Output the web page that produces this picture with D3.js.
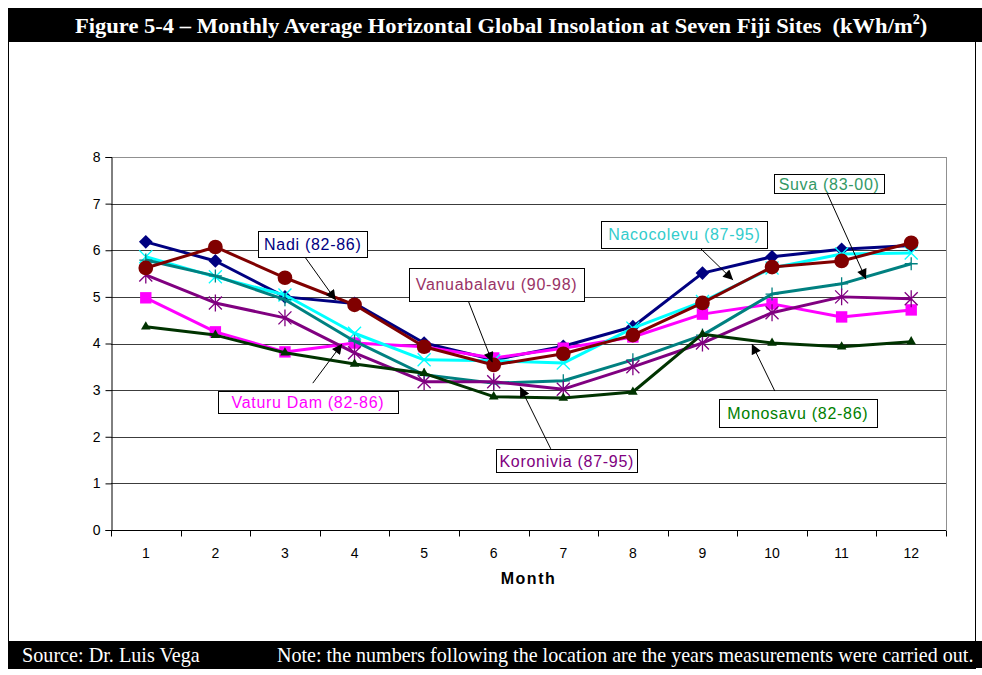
<!DOCTYPE html>
<html>
<head>
<meta charset="utf-8">
<script src="https://cdn.jsdelivr.net/npm/d3@7"></script>
<style>
    body {
        margin: 0;
        background: #fff;
    }
    svg {
        display: block;
    }
</style>
</head>
<body>
<svg id="chart" width="982" height="675"></svg>
<script>
    const months = [1, 2, 3, 4, 5, 6, 7, 8, 9, 10, 11, 12];
    const yTicks = [0, 1, 2, 3, 4, 5, 6, 7, 8];

    // kWh/m2 per month
    const nadi = [6.18, 5.77, 5.0, 4.86, 4.01, 3.65, 3.94, 4.36, 5.51, 5.86, 6.02, 6.1];
    const vaturuDam = [4.98, 4.25, 3.82, 4.01, 3.93, 3.69, 3.9, 4.14, 4.63, 4.85, 4.57, 4.72];
    const nacocolevu = [5.86, 5.43, 5.04, 4.22, 3.65, 3.63, 3.58, 4.33, 4.9, 5.62, 5.92, 5.94];
    const suva = [5.79, 5.45, 4.94, 4.05, 3.33, 3.15, 3.2, 3.65, 4.18, 5.06, 5.28, 5.71];
    const koronivia = [5.47, 4.87, 4.55, 3.8, 3.18, 3.18, 3.02, 3.5, 4.01, 4.66, 5.0, 4.96];
    const monosavu = [4.36, 4.18, 3.8, 3.56, 3.36, 2.86, 2.83, 2.96, 4.2, 4.01, 3.93, 4.04];
    const vanuabalavu = [5.62, 6.07, 5.41, 4.83, 3.93, 3.54, 3.78, 4.18, 4.87, 5.64, 5.77, 6.16];

    const series = [
        {name: "Nadi (82-86)", values: nadi, color: "#000080", text: "#000080", marker: "diamond"},
        {name: "Vaturu Dam (82-86)", values: vaturuDam, color: "#ff00ff", text: "#ff00ff", marker: "square"},
        {name: "Nacocolevu (87-95)", values: nacocolevu, color: "#00ffff", text: "#33cccc", marker: "x"},
        {name: "Suva (83-00)", values: suva, color: "#008080", text: "#339966", marker: "plus"},
        {name: "Koronivia (87-95)", values: koronivia, color: "#800080", text: "#800080", marker: "star"},
        {name: "Monosavu (82-86)", values: monosavu, color: "#003300", text: "#008000", marker: "triangle"},
        {name: "Vanuabalavu (90-98)", values: vanuabalavu, color: "#800000", text: "#993366", marker: "circle"},
    ];

    // callouts: box centre and arrow ends in data units (month, value)
    const callouts = [
        {name: "Nadi (82-86)", box: [3.4, 6.13], w: 109, h: 26, from: [3.28, 5.87], to: [3.73, 4.93]},
        {name: "Vanuabalavu (90-98)", box: [6.04, 5.27], w: 175, h: 33, from: [5.63, 4.93], to: [5.98, 3.6]},
        {name: "Nacocolevu (87-95)", box: [8.74, 6.34], w: 166, h: 27, from: [8.95, 6.07], to: [9.44, 5.36]},
        {name: "Suva (83-00)", box: [10.82, 7.43], w: 110, h: 19, from: [10.79, 7.23], to: [11.35, 5.38]},
        {name: "Vaturu Dam (82-86)", box: [3.33, 2.75], w: 180, h: 22, from: [3.4, 3.15], to: [3.82, 3.99]},
        {name: "Monosavu (82-86)", box: [10.37, 2.51], w: 158, h: 28, from: [10.04, 2.98], to: [9.71, 3.99]},
        {name: "Koronivia (87-95)", box: [7.05, 1.49], w: 141, h: 23, from: [6.82, 1.74], to: [6.38, 3.07]},
    ];

    const svg = d3.select("#chart");
    const W = 982, H = 675;

    const plot = {left: 111, right: 946, top: 157, bottom: 530};

    // squeeze a text element horizontally so it spans [x0, x1]
    const fitText = (sel, x0, x1) => {
        const box = sel.node().getBBox();
        const k = (x1 - x0) / box.width;
        sel.attr("transform", `translate(${x0},0) scale(${k},1) translate(${-box.x},0)`);
    };

    // frame, header and footer
    svg.append("rect")
        .attr("x", 8.5).attr("y", 8.5)
        .attr("width", 967).attr("height", 660)
        .attr("fill", "#fff")
        .attr("stroke", "#000");

    svg.append("rect")
        .attr("x", 8).attr("y", 8)
        .attr("width", W - 8).attr("height", 34)
        .attr("fill", "#000");

    const title = svg.append("text")
        .attr("x", 0).attr("y", 33)
        .attr("fill", "#fff")
        .style("font-family", "'Liberation Serif', 'Times New Roman', serif")
        .style("font-weight", "bold")
        .style("font-size", "22px");
    title.append("tspan").text("Figure 5-4 \u2013 Monthly Average Horizontal Global Insolation at Seven Fiji Sites\u00a0\u00a0(kWh/m");
    title.append("tspan").attr("dy", -9).style("font-size", "14px").text("2");
    title.append("tspan").attr("dy", 9).text(")");
    fitText(title, 75, 928);

    svg.append("rect")
        .attr("x", 8).attr("y", 641)
        .attr("width", W - 8).attr("height", 27)
        .attr("fill", "#000");

    const foot = svg.append("g")
        .attr("fill", "#fff")
        .style("font-family", "'Liberation Serif', 'Times New Roman', serif")
        .style("font-size", "20px");
    fitText(foot.append("text").attr("y", 662).text("Source: Dr. Luis Vega"), 22, 200);
    fitText(foot.append("text").attr("y", 662)
        .text("Note: the numbers following the location are the years measurements were carried out."), 277, 974);

    // scales
    const x = d3.scaleBand()
        .domain(months)
        .range([plot.left, plot.right]);

    const xm = d => x(d) + x.bandwidth() / 2;
    // continuous month position, for callouts
    const xc = m => plot.left + (m - 0.5) * x.bandwidth();

    const y = d3.scaleLinear()
        .domain([0, 8])
        .range([plot.bottom, plot.top]);

    // gridlines
    svg.append("g")
        .selectAll("line")
        .data(yTicks.filter(t => t > 0))
        .join("line")
        .attr("x1", plot.left).attr("x2", plot.right)
        .attr("y1", d => Math.round(y(d)) + 0.5)
        .attr("y2", d => Math.round(y(d)) + 0.5)
        .attr("stroke", d => d === 8 ? "#909090" : "#3c3c3c");

    svg.append("line")
        .attr("x1", plot.right + 0.5).attr("x2", plot.right + 0.5)
        .attr("y1", plot.top).attr("y2", plot.bottom)
        .attr("stroke", "#909090");

    // axes
    svg.append("g")
        .attr("transform", `translate(${plot.left + 0.5},0)`)
        .call(d3.axisLeft(y).tickValues(yTicks).tickSize(6).tickPadding(5).tickFormat(d3.format("d")))
        .call(g => g.select(".domain").attr("stroke", "#000"))
        .call(g => g.selectAll(".tick line").attr("stroke", "#000"))
        .call(g => g.selectAll("text")
            .style("font-family", "'Liberation Sans', Arial, sans-serif")
            .style("font-size", "14px")
            .attr("fill", "#000"));

    const xAxis = svg.append("g")
        .attr("transform", `translate(0,${Math.round(y(0)) + 0.5})`);
    xAxis.append("line")
        .attr("x1", plot.left).attr("x2", plot.right)
        .attr("stroke", "#000");
    xAxis.selectAll(".sep")
        .data(months.concat([13]))
        .join("line")
        .attr("class", "sep")
        .attr("x1", d => Math.round(plot.left + (d - 1) * x.bandwidth()) + 0.5)
        .attr("x2", d => Math.round(plot.left + (d - 1) * x.bandwidth()) + 0.5)
        .attr("y1", 0).attr("y2", 6)
        .attr("stroke", "#000");
    xAxis.selectAll("text")
        .data(months)
        .join("text")
        .attr("x", xm)
        .attr("y", 27)
        .attr("text-anchor", "middle")
        .style("font-family", "'Liberation Sans', Arial, sans-serif")
        .style("font-size", "14px")
        .text(d => d);

    svg.append("text")
        .attr("x", xc(6.5))
        .attr("y", 584)
        .attr("text-anchor", "middle")
        .style("font-family", "'Liberation Sans', Arial, sans-serif")
        .style("font-size", "16px")
        .style("font-weight", "bold")
        .style("letter-spacing", "1.5px")
        .text("Month");

    // series
    const line = d3.line()
        .x((d, i) => xm(months[i]))
        .y(d => y(d));

    const symbols = {
        diamond: d3.symbol().type(d3.symbolDiamond2).size(120),
        square: d3.symbol().type(d3.symbolSquare).size(130),
        circle: d3.symbol().type(d3.symbolCircle).size(170),
        triangle: d3.symbol().type(d3.symbolTriangle).size(40),
    };

    const strokePath = (kind, r) => {
        if (kind === "plus") {
            return `M${-r},0H${r}M0,${-r}V${r}`;
        }
        if (kind === "x") {
            return `M${-r},${-r}L${r},${r}M${-r},${r}L${r},${-r}`;
        }
        // asterisk
        return `M${-r},${-r}L${r},${r}M${-r},${r}L${r},${-r}M0,${-r * 1.3}V${r * 1.3}`;
    };

    const lines = svg.append("g")
        .selectAll("g")
        .data(series)
        .join("g");

    lines.append("path")
        .attr("d", d => line(d.values))
        .attr("fill", "none")
        .attr("stroke", d => d.color)
        .attr("stroke-width", 3)
        .attr("stroke-linejoin", "round");

    lines.each(function (s) {
        const pts = d3.select(this)
            .selectAll(".pt")
            .data(s.values)
            .join("path")
            .attr("class", "pt")
            .attr("transform", (d, i) => `translate(${xm(months[i])},${y(d)})`);

        if (symbols[s.marker]) {
            pts.attr("d", symbols[s.marker]())
                .attr("fill", s.color);
        } else {
            pts.attr("d", strokePath(s.marker, 6.5))
                .attr("fill", "none")
                .attr("stroke", s.color)
                .attr("stroke-width", 1.3);
        }
    });

    // callouts
    svg.append("defs")
        .append("marker")
        .attr("id", "arrow")
        .attr("viewBox", "0 0 10 10")
        .attr("refX", 10).attr("refY", 5)
        .attr("markerWidth", 11).attr("markerHeight", 10)
        .attr("markerUnits", "userSpaceOnUse")
        .attr("orient", "auto")
        .append("path")
        .attr("d", "M0,0L10,5L0,10Z")
        .attr("fill", "#000");

    const textColor = name => series.find(s => s.name === name).text;

    const notes = svg.append("g")
        .selectAll("g")
        .data(callouts)
        .join("g");

    notes.append("line")
        .attr("x1", d => xc(d.from[0])).attr("y1", d => y(d.from[1]))
        .attr("x2", d => xc(d.to[0])).attr("y2", d => y(d.to[1]))
        .attr("stroke", "#000")
        .attr("stroke-width", 1)
        .attr("marker-end", "url(#arrow)");

    notes.append("rect")
        .attr("x", d => Math.round(xc(d.box[0]) - d.w / 2) + 0.5)
        .attr("y", d => Math.round(y(d.box[1]) - d.h / 2) + 0.5)
        .attr("width", d => d.w)
        .attr("height", d => d.h)
        .attr("fill", "#fff")
        .attr("stroke", "#000");

    notes.append("text")
        .attr("x", d => xc(d.box[0]))
        .attr("y", d => y(d.box[1]) + 6)
        .attr("text-anchor", "middle")
        .attr("fill", d => textColor(d.name))
        .style("font-family", "'Liberation Sans', Arial, sans-serif")
        .style("font-size", "16px")
        .style("letter-spacing", "0.7px")
        .text(d => d.name);
</script>
</body>
</html>
